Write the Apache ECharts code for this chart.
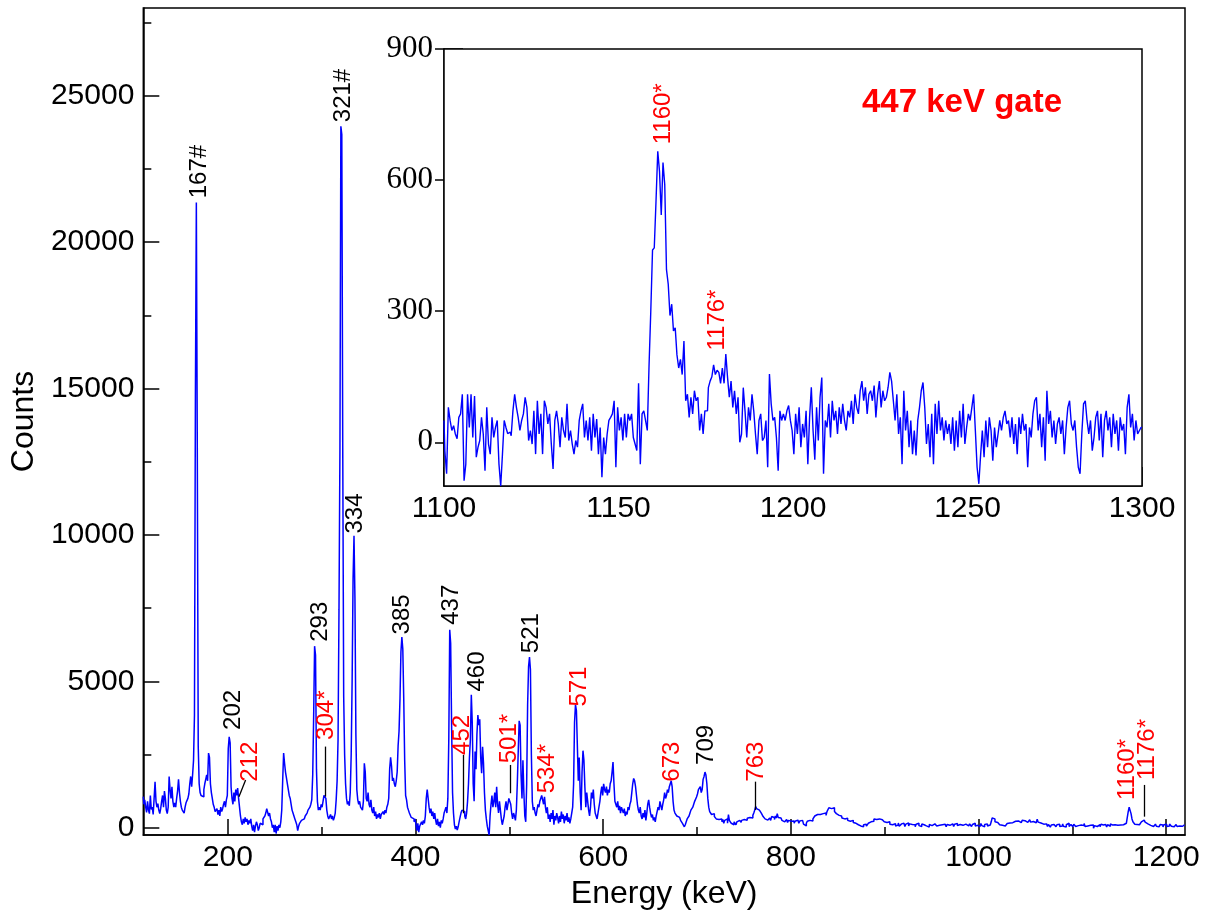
<!DOCTYPE html>
<html><head><meta charset="utf-8">
<script src="https://cdn.jsdelivr.net/npm/echarts@6/dist/echarts.min.js"></script>
<style>html,body{margin:0;padding:0;background:#fff}#c{width:1212px;height:915px}</style>
</head><body><div id="c"></div>
<script>
// ---------------- data ----------------
const mainStart = 110;   // keV, 1 keV channels
const mainCounts = [
1060,800,950,700,520,900,600,480,1100,620,
700,450,1000,1570,900,700,820,600,480,650,
900,1100,700,1250,1000,600,480,700,1750,1300,
1000,1400,900,700,850,700,1000,1250,1650,1200,
900,700,600,650,500,700,850,900,1000,1150,
1500,1750,1400,1800,2300,3850,14780,21360,13020,2800,
1500,1200,1100,1150,1050,1300,1500,1650,1800,1600,
2550,2400,1500,1200,1000,800,700,550,500,650,
450,600,400,700,550,650,800,900,700,950,
1100,2700,3100,2900,1400,1000,800,1200,900,1300,
1100,1350,1000,700,400,200,100,300,150,350,
200,300,100,250,150,300,50,-100,100,-150,
50,200,100,-100,0,150,200,100,300,250,
400,500,650,600,400,500,300,200,0,100,
-150,100,-200,50,-100,100,0,200,600,1600,
2550,2200,1900,1700,1500,1300,1100,1000,800,600,
500,400,300,200,100,-100,50,150,100,250,
200,300,250,400,450,500,600,550,700,800,
950,1800,3800,6200,5900,2000,900,600,700,600,
800,700,900,1100,1150,1000,600,400,300,250,
450,300,400,250,350,500,950,1600,3000,7440,
12900,23960,23680,12950,4500,2500,1500,1000,800,900,
750,1200,2500,5000,8490,9970,7820,3200,1300,950,
800,900,700,750,600,900,2200,1900,1000,900,
1200,800,700,950,600,500,700,400,550,300,
450,350,500,300,450,400,550,450,600,500,
700,800,1000,2000,2400,2100,1600,1700,1500,1400,
1600,1900,2800,3300,4400,6000,6510,6100,4400,2300,
1100,950,700,600,500,550,350,400,300,200,
300,100,-100,150,-150,50,100,200,100,250,
150,400,1000,1300,1250,700,500,650,400,550,
300,500,250,100,300,50,200,0,250,150,
300,500,600,700,500,1000,3000,6760,6300,3500,
1200,500,100,-50,50,-80,30,200,350,500,
600,650,550,400,300,500,900,1500,2400,3000,
4540,3600,1500,900,2600,2000,3200,3850,3500,3700,
2400,1860,2760,2200,1200,600,300,50,-100,-250,
400,800,1100,700,900,1200,700,1400,800,500,
900,600,300,100,50,400,700,900,600,800,
1000,1050,800,500,300,500,400,250,600,1500,
2600,3650,3500,1800,1000,2300,1200,400,200,1500,
4200,5500,5830,5400,2500,900,600,700,500,400,
600,800,700,900,1000,1100,950,800,1050,700,
500,700,300,450,200,500,300,600,100,400,
250,500,350,150,400,200,550,300,450,150,
400,250,500,200,350,150,300,500,700,1500,
3600,4200,4000,2800,1600,2400,1200,600,1900,2630,
2300,1400,700,1200,900,600,400,700,1200,1000,
1300,800,500,400,300,500,700,900,1200,1400,
1100,1500,1300,1200,1400,1100,1300,1200,1500,1600,
1900,2240,1500,900,800,700,900,600,750,500,
700,600,500,650,400,550,450,700,600,800,
900,1200,1500,1680,1600,1400,1100,800,600,500,
700,400,300,500,350,600,250,500,800,950,
700,500,350,450,250,350,200,400,550,700,
600,900,750,600,800,950,1200,1000,1100,1300,
1200,1400,1500,1600,1400,900,600,500,550,400,
450,350,300,250,300,150,100,30,100,200,
300,350,400,500,600,650,700,800,900,950,
1050,1150,1300,1250,1400,1200,1300,1650,1750,1900,
1800,1500,1000,700,550,500,450,400,480,380,
420,300,350,280,330,260,300,200,280,150,
250,200,300,150,450,250,200,150,180,100,
200,150,100,200,150,250,200,180,250,200,
280,230,300,250,320,280,350,300,380,330,
420,500,600,720,650,700,600,650,550,500,
450,380,420,300,350,260,320,280,330,250,
380,320,350,280,400,330,480,350,300,330,
280,250,300,200,260,220,280,180,250,300,
220,250,180,230,150,220,180,260,200,150,
230,180,250,200,120,180,60,150,220,180,
250,200,280,230,300,350,400,380,450,420,
480,450,500,420,480,520,450,500,420,550,
600,680,720,650,700,620,680,550,600,480,
500,420,450,380,400,330,380,300,350,280,
320,250,300,220,280,200,250,180,220,150,
200,120,100,150,60,120,80,30,100,60,
120,50,100,150,120,200,180,250,220,300,
250,280,320,260,300,250,320,270,230,280,
200,250,180,220,150,200,120,170,100,150,
80,140,60,120,90,160,50,110,130,70,
150,90,40,120,100,160,60,130,80,110,
50,140,100,30,120,90,150,70,110,40,
130,80,100,160,60,120,90,20,110,140,
70,100,50,130,90,150,60,110,80,120,
40,100,140,70,120,90,30,110,150,80,
100,60,130,90,40,120,80,140,70,100,
110,50,130,80,100,20,120,90,140,60,
100,130,70,40,110,90,150,60,100,80,
120,40,90,140,70,100,30,110,80,130,
60,100,90,150,200,330,376,300,200,150,
180,120,150,100,140,80,130,100,60,120,
90,140,110,160,130,200,170,230,190,220,
250,180,230,200,260,170,220,250,190,240,
210,260,180,230,200,270,190,240,210,180,
250,170,220,290,190,230,160,200,150,120,
100,60,130,80,40,110,70,20,90,60,
110,50,80,30,100,70,120,40,90,60,
130,50,90,20,100,70,150,40,80,110,
60,30,120,80,40,100,70,130,20,90,
50,100,70,140,40,90,60,110,30,80,
120,50,90,-20,70,110,40,80,60,100,
30,120,70,90,50,110,60,20,100,80,
50,130,70,90,40,100,60,120,80,110,
60,90,130,70,100,80,120,150,200,350,
550,697,650,480,300,200,150,120,90,110,
70,100,130,150,200,230,260,220,190,160,
130,100,140,80,60,110,40,90,70,120,
50,100,30,80,110,60,90,20,100,70,
120,40,90,60,130,80,50,100,30,90,
70,110,40,100,60,120,80,50,90,60,
100
];

const insetStart = 1100;   // keV
const insetStep = 0.5;     // keV per channel
const insetCounts = [
50,-20,-72,80,50,27,38,19,8,57,
65,110,-88,-50,110,34,110,11,106,-34,
-11,4,57,19,-65,80,-4,-27,57,11,
34,50,-50,-100,-27,50,34,20,23,15,
72,110,80,57,27,50,65,103,80,4,
27,-4,72,-27,95,19,65,-27,95,80,
42,65,-4,-61,50,72,42,-11,57,27,
11,88,4,27,-4,-27,4,-11,50,72,
88,11,50,4,57,-19,65,11,53,-27,
34,-80,11,-27,19,50,57,65,95,-57,
80,27,57,4,65,11,65,50,65,11,
-4,-19,135,-50,65,72,50,27,175,300,
440,445,552,666,620,520,640,590,395,362,
290,316,255,262,200,170,190,155,232,95,
110,57,103,65,118,95,103,27,65,19,
72,72,125,140,150,177,155,165,160,135,
170,135,202,148,103,140,80,118,65,103,
0,19,125,72,11,80,50,110,72,19,
-27,50,65,4,11,50,-57,156,88,50,
57,11,-65,72,50,65,50,72,84,50,
27,-27,65,19,80,-11,42,11,72,-50,
57,126,27,-40,80,4,103,148,-72,50,
34,88,11,95,50,72,19,80,42,88,
50,27,72,57,95,42,110,80,65,118,
140,95,126,65,110,118,95,130,57,110,
140,80,118,95,103,126,160,140,95,50,
110,19,57,-50,118,27,72,-11,50,-27,
27,-30,50,80,118,137,80,-4,42,-34,
65,-50,88,19,95,27,57,4,50,19,
42,-4,57,-19,50,-11,72,11,88,-4,
34,65,50,80,110,27,-57,-95,-30,27,
-34,50,-11,57,27,-42,34,-11,19,50,
27,57,72,42,50,11,57,-4,42,-27,
57,19,65,27,42,-57,34,11,65,95,
103,27,65,-11,57,-42,118,42,72,11,
50,-4,42,57,19,50,-27,34,80,95,
42,27,50,-11,-57,-72,19,88,95,50,
19,50,-19,11,57,72,4,65,-34,50,
72,27,57,-11,65,19,50,-19,57,27,
42,-27,80,110,34,65,4,50,19,27,
34
];

// tick values
const xTickLabels = [200, 400, 600, 800, 1000, 1200];
const xMinorTicks = [300, 500, 700, 900, 1100];
const yTickLabels = [0, 5000, 10000, 15000, 20000, 25000];
const yMinorTicks = [2500, 7500, 12500, 17500, 22500, 27500];
const insetXTicks = [1100, 1150, 1200, 1250, 1300];
const insetXMinor = [1125, 1175, 1225, 1275];
const insetYTicks = [0, 300, 600, 900];
const insetYMinor = [150, 450, 750];

// peak annotations (main panel): text, label energy, label base (counts), colour
const peakNames  = ['167#','202','212','293','304*','321#','334','385','437','452','460','501*','521','534*','571','673','709','763','1160*','1176*'];
const peakLabelE = [169.3, 205.5, 224.3, 298.3, 305.2, 323.4, 336.2, 386.3, 437.9, 450.3, 465.6, 500.0, 523.3, 540.2, 574.7, 674.1, 709.7, 763.6, 1159.1, 1179.7];
const peakLabelC = [21500, 3340, 1572, 6350, 2998, 24100, 10050, 6600, 6930, 2485, 4650, 2200, 5960, 1176, 4136, 1572, 2143, 1572, 947, 1630];
const peakRed    = [false,false,true,false,true,false,false,false,false,true,false,true,false,true,true,true,false,true,true,true];
// leader lines: [E0, C0, E1, C1]
const leaderLines = [
  [211.9, 1060, 219.0, 1630],
  [303.9, 1060, 303.9, 2770],
  [451.3, 492, 451.3, 2485],
  [501.1, 1176, 501.1, 2143],
  [762.2, 605, 762.2, 1572],
  [1177.1, 376, 1177.1, 1460]
];
// inset annotations
const insetNames  = ['1160*', '1176*'];
const insetLabelE = [1162.8, 1178.3];
const insetLabelC = [682, 210];
const gateText = '447 keV gate';

// ---------------- chart ----------------
const SANS = 'Liberation Sans';
const SERIF = 'Liberation Serif';
const BLACK = '#000';
const RED = '#ff0000';
const BLUE = '#0000ff';

const mainData = mainCounts.map((c, i) => [mainStart + i, c]);
const insetData = insetCounts.map((c, i) => [insetStart + i * insetStep, c]);

const chart = echarts.init(document.getElementById('c'), null, {renderer: 'canvas', width: 1212, height: 915});

function tickAxis(gridIndex, position, min, max, values, len, inside) {
  return {
    type: 'value', gridIndex, position, min, max,
    axisLine: {show: false, onZero: false},
    axisTick: {show: true, inside, length: len, customValues: values, lineStyle: {color: BLACK, width: 1.5}},
    axisLabel: {show: false},
    splitLine: {show: false}
  };
}

const labelCommon = {show: true, position: 'inside', rotate: 90, align: 'left', verticalAlign: 'middle',
                     fontFamily: SANS, fontSize: 24, textBorderWidth: 0, opacity: 1};

const option = {
  animation: false,
  backgroundColor: '#fff',
  grid: [
    {left: 143, top: 8, width: 1042, height: 827, show: true, borderColor: BLACK, borderWidth: 1.5, backgroundColor: '#fff', containLabel: false},
    {left: 444, top: 49, width: 698, height: 437, show: true, borderColor: BLACK, borderWidth: 1.5, backgroundColor: '#fff', containLabel: false, z: 5}
  ],
  xAxis: [
    {
      type: 'value', gridIndex: 0, position: 'bottom', min: 110, max: 1220,
      name: 'Energy (keV)', nameLocation: 'middle', nameGap: 40,
      nameTextStyle: {fontFamily: SANS, fontSize: 32, color: BLACK},
      axisLine: {show: true, onZero: false, lineStyle: {color: BLACK, width: 1.5}},
      axisTick: {show: true, inside: true, length: 16, customValues: xTickLabels, lineStyle: {color: BLACK, width: 1.5}},
      axisLabel: {customValues: xTickLabels, fontFamily: SANS, fontSize: 30, color: BLACK, margin: 8, formatter: v => String(v)},
      splitLine: {show: false}
    },
    tickAxis(0, 'bottom', 110, 1220, xMinorTicks, 8, true),
    {
      type: 'value', gridIndex: 1, position: 'bottom', min: 1100, max: 1300,
      axisLine: {show: true, onZero: false, lineStyle: {color: BLACK, width: 1.5}},
      axisTick: {show: true, inside: true, length: 19, customValues: insetXTicks, lineStyle: {color: BLACK, width: 1.5}},
      axisLabel: {customValues: insetXTicks, fontFamily: SANS, fontSize: 30, color: BLACK, margin: 8, formatter: v => String(v)},
      splitLine: {show: false}
    },
    tickAxis(1, 'bottom', 1100, 1300, insetXMinor, 10, true)
  ],
  yAxis: [
    {
      type: 'value', gridIndex: 0, position: 'left', min: -250, max: 28000,
      name: 'Counts', nameLocation: 'middle', nameGap: 96, nameRotate: 90,
      nameTextStyle: {fontFamily: SANS, fontSize: 32, color: BLACK},
      axisLine: {show: true, onZero: false, lineStyle: {color: BLACK, width: 1.5}},
      axisTick: {show: true, inside: true, length: 16, customValues: yTickLabels, lineStyle: {color: BLACK, width: 1.5}},
      axisLabel: {customValues: yTickLabels, fontFamily: SANS, fontSize: 30, color: BLACK, margin: 9, formatter: v => String(v)},
      splitLine: {show: false}
    },
    tickAxis(0, 'left', -250, 28000, yMinorTicks, 8, true),
    {
      type: 'value', gridIndex: 1, position: 'left', min: -100, max: 900,
      axisLine: {show: true, onZero: false, lineStyle: {color: BLACK, width: 1.5}},
      axisTick: {show: true, inside: true, length: 19, customValues: insetYTicks, lineStyle: {color: BLACK, width: 1.5}},
      axisLabel: {customValues: insetYTicks, fontFamily: SERIF, fontSize: 31, color: BLACK, margin: 11, formatter: v => String(v)},
      splitLine: {show: false}
    },
    tickAxis(1, 'left', -100, 900, insetYMinor, 10, true),
    tickAxis(1, 'left', -100, 900, insetYTicks, 9, false)
  ],
  series: [
    {
      type: 'line', xAxisIndex: 0, yAxisIndex: 0, data: mainData,
      showSymbol: false, symbol: 'none', step: 'middle', clip: true,
      lineStyle: {color: BLUE, width: 1.5}, z: 2
    },
    {
      type: 'scatter', xAxisIndex: 0, yAxisIndex: 0,
      symbolSize: 1, itemStyle: {color: 'rgba(0,0,0,0)', opacity: 1}, silent: true, z: 4,
      data: peakNames.map((t, i) => ({
        value: [peakLabelE[i], peakLabelC[i]],
        label: {formatter: t, color: peakRed[i] ? RED : BLACK}
      })),
      label: labelCommon,
      markLine: {
        silent: true, symbol: ['none', 'none'], animation: false,
        label: {show: false},
        lineStyle: {color: BLACK, width: 1.3, type: 'solid', opacity: 1},
        data: leaderLines.map(l => [{coord: [l[0], l[1]]}, {coord: [l[2], l[3]]}])
      }
    },
    {
      type: 'line', xAxisIndex: 2, yAxisIndex: 2, data: insetData,
      showSymbol: false, symbol: 'none', step: 'middle', clip: true,
      lineStyle: {color: BLUE, width: 1.4}, z: 6
    },
    {
      type: 'scatter', xAxisIndex: 2, yAxisIndex: 2,
      symbolSize: 1, itemStyle: {color: 'rgba(0,0,0,0)', opacity: 1}, silent: true, z: 7,
      data: insetNames.map((t, i) => ({value: [insetLabelE[i], insetLabelC[i]], label: {formatter: t}})),
      label: Object.assign({}, labelCommon, {color: RED})
    }
  ],
  graphic: [
    {type: 'text', x: 962, y: 103, z: 100,
     style: {text: gateText, fill: RED, font: 'bold 33px "Liberation Sans"', textAlign: 'center', textVerticalAlign: 'middle'}}
  ]
};
chart.setOption(option);
</script>
</body></html>
